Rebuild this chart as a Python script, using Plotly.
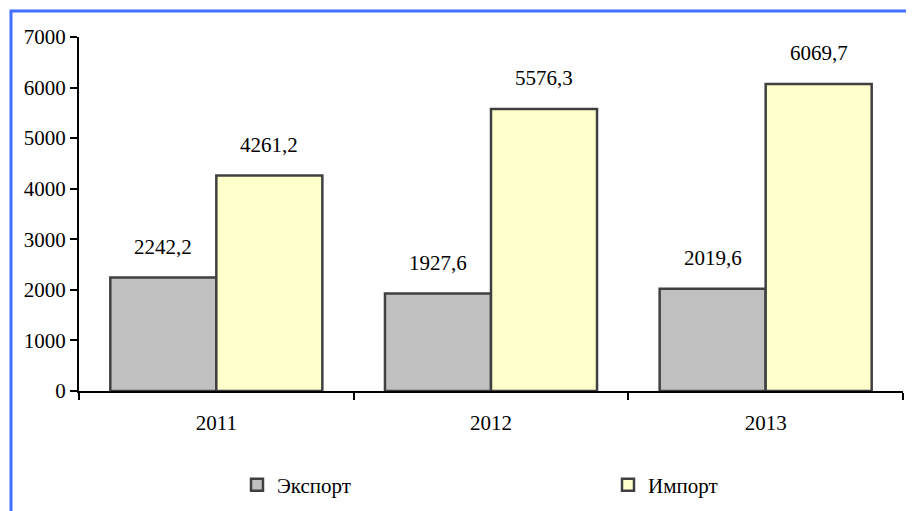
import plotly.graph_objects as go

years = ["2011", "2012", "2013"]
export_vals = [2242.2, 1927.6, 2019.6]
import_vals = [4261.2, 5576.3, 6069.7]
series_names = ["Экспорт", "Импорт"]
y_ticks = [0, 1000, 2000, 3000, 4000, 5000, 6000, 7000]

FONT = "Times New Roman, Liberation Serif, serif"
OFF = 8  # default page body margin
W, H = 914, 511 - OFF
PLOT_L, PLOT_R, PLOT_T, PLOT_B = 79, 903, 37, 391  # plot edges in screenshot pixels
ML, MT = PLOT_L - OFF, PLOT_T - OFF
MR = W - (PLOT_R - OFF)
MB = H - (PLOT_B - OFF)
PW, PH = W - ML - MR, H - MT - MB

def fmt(v):
    return f"{v:.1f}".replace(".", ",")

fig = go.Figure()
fig.add_trace(go.Bar(x=years, y=export_vals, name=series_names[0], legend="legend",
                     marker=dict(color="#C0C0C0", line=dict(color="#404040", width=2.5))))
fig.add_trace(go.Bar(x=years, y=import_vals, name=series_names[1], legend="legend2",
                     marker=dict(color="#FFFFCC", line=dict(color="#404040", width=2.5))))

bargap = 0.228
group_px = PW / len(years) * (1 - bargap)
for vals, sign in ((export_vals, -1), (import_vals, 1)):
    for i, v in enumerate(vals):
        fig.add_annotation(x=i, y=v, text=fmt(v), showarrow=False,
                           xref="x", yref="y", yanchor="bottom",
                           xshift=sign * group_px / 4, yshift=17,
                           font=dict(family=FONT, size=21, color="black"))

# blue frame
fig.add_shape(type="rect", xref="paper", yref="paper",
              x0=(11 - PLOT_L) / PW, x1=1.3, y0=-0.8, y1=(PLOT_B - 11) / PH,
              line=dict(color="#4271FF", width=3), layer="above")

leg_common = dict(orientation="h", xanchor="left", yanchor="middle",
                  y=(PLOT_B - 485) / PH,
                  font=dict(family=FONT, size=21, color="black"),
                  bgcolor="rgba(0,0,0,0)")

fig.update_layout(
    width=W, height=H,
    margin=dict(l=ML, r=MR, t=MT, b=MB, autoexpand=False),
    paper_bgcolor="white", plot_bgcolor="white",
    barmode="group", bargap=bargap, bargroupgap=0,
    font=dict(family=FONT, size=21, color="black"),
    showlegend=True,
    legend=dict(x=(237 - PLOT_L) / PW, **leg_common),
    legend2=dict(x=(608 - PLOT_L) / PW, **leg_common),
)
fig.update_xaxes(type="category", range=[-0.5, len(years) - 0.5],
                 showline=True, linecolor="black", linewidth=2,
                 ticks="outside", tickson="boundaries", ticklen=7,
                 tickwidth=2, tickcolor="black", ticklabelstandoff=12,
                 tickfont=dict(family=FONT, size=21, color="black"),
                 showgrid=False, zeroline=False)
fig.update_yaxes(range=[0, 7000], tickvals=y_ticks, tickformat="d",
                 showline=True, linecolor="black", linewidth=2,
                 ticks="outside", ticklen=7, tickwidth=2, tickcolor="black",
                 ticklabelstandoff=0,
                 tickfont=dict(family=FONT, size=21, color="black"),
                 showgrid=False, zeroline=False)

fig.write_html("out.html")
